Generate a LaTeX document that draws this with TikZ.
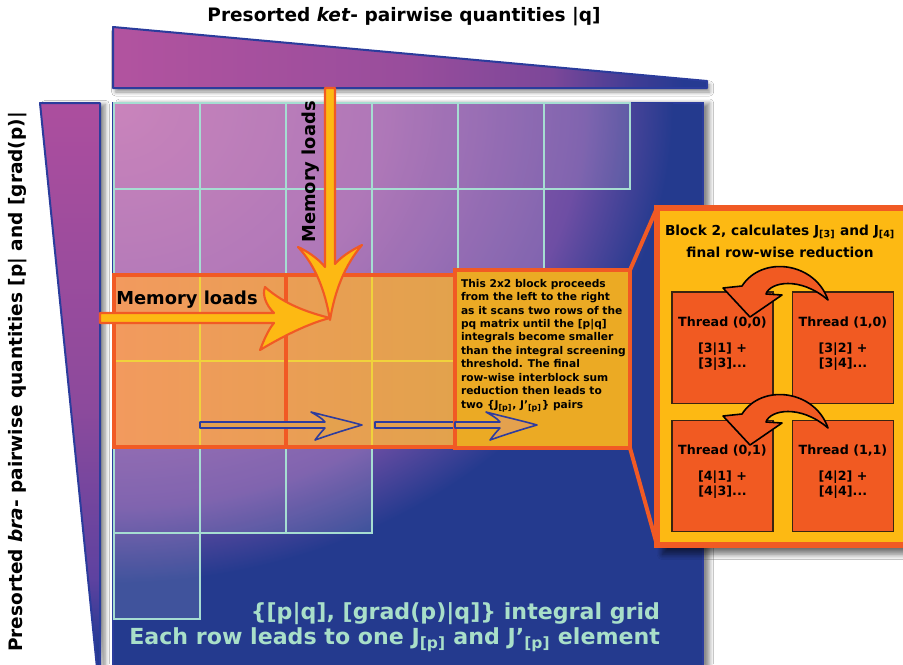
\documentclass[tikz,border=0pt]{standalone}
\usepackage{fontspec}
\setmainfont{DejaVu Sans}
\usetikzlibrary{shadows.blur}
\definecolor{bgblue}{HTML}{243A8E}
\definecolor{edgeblue}{HTML}{2B3C9C}
\definecolor{cellline}{HTML}{A6DDD2}
\definecolor{glowA}{HTML}{C272B1}
\definecolor{glowB}{HTML}{A464AE}
\definecolor{glowC}{HTML}{6E4EA4}
\definecolor{tA}{HTML}{B2539F}
\definecolor{tB}{HTML}{984D9C}
\definecolor{tC}{HTML}{7C4799}
\definecolor{tD}{HTML}{3E3C94}
\definecolor{tE}{HTML}{263A92}
\definecolor{lA}{HTML}{AC4E9E}
\definecolor{lB}{HTML}{8C4A9C}
\definecolor{lC}{HTML}{5E42A0}
\definecolor{bandL}{HTML}{F29A5E}
\definecolor{bandR}{HTML}{E2A24C}
\definecolor{bandline}{HTML}{F0D23C}
\definecolor{orangeedge}{HTML}{F15A24}
\definecolor{calloutfill}{HTML}{EBAA24}
\definecolor{blockfill}{HTML}{FDB913}
\definecolor{threadfill}{HTML}{F15A22}
\definecolor{threadedge}{HTML}{3A2410}
\definecolor{memfill}{HTML}{FDB913}
\definecolor{arrowblue}{HTML}{2E3C9E}
\definecolor{gridtext}{HTML}{A9DFC9}
\pgfdeclareradialshading{glow}{\pgfpoint{0bp}{0bp}}{color(0bp)=(glowA); color(12bp)=(glowB); color(21bp)=(glowC); color(25bp)=(bgblue); color(50bp)=(bgblue)}
\pgfdeclarehorizontalshading{topgrad}{100bp}{color(0bp)=(tA); color(25bp)=(tA); color(50bp)=(tB); color(62bp)=(tC); color(69bp)=(tD); color(73bp)=(tE); color(100bp)=(tE)}
\pgfdeclareverticalshading{leftgrad}{100bp}{color(0bp)=(tE); color(27bp)=(tE); color(33bp)=(lC); color(48bp)=(lB); color(75bp)=(lA); color(100bp)=(lA)}
\newcommand\fsz[2]{\fontsize{#1}{#2}\selectfont\bfseries}
\begin{document}
\begin{tikzpicture}[x=0.75pt,y=-0.75pt,
  every node/.style={inner sep=0pt, outer sep=0pt},
  softshadow/.style={blur shadow={shadow xshift=#1, shadow yshift=-3pt, shadow opacity=45, shadow blur steps=8, shadow blur radius=3pt}},
  cellfill/.style={fill=white, fill opacity=0.13},
  cellbox/.style={draw=cellline, line width=1.1pt},
  thickor/.style={draw=orangeedge, line width=3pt},
  bandgrid/.style={draw=bandline, line width=1.1pt},
  bluearrow/.style={fill=bandR!90!bandL, draw=arrowblue, line width=1.2pt, line join=round},
  memarrow/.style={fill=memfill, draw=orangeedge, line width=1.6pt, line join=round},
  curvearrow/.style={fill=threadfill, draw=black, line width=1.2pt, line join=round},
  threadbox/.style={draw=threadedge, fill=threadfill, line width=1pt, minimum width=75.75pt, minimum height=83.5pt},
  threadtxt/.style={font=\fsz{9.5}{11.3}, align=center}]
\useasboundingbox[fill=white] (0,0) rectangle (903,664);

% top triangle (ket)
\shade[shading=topgrad, draw=edgeblue, line width=1.5pt, line join=round, softshadow=2pt]
  (113,27) -- (707,81) -- (707,88) -- (113,88) -- cycle;
% left triangle (bra)
\shade[shading=leftgrad, draw=edgeblue, line width=1.5pt, line join=round,
  blur shadow={shadow xshift=4pt, shadow yshift=-1pt, shadow opacity=45, shadow blur steps=8, shadow blur radius=3pt}]
  (40,103) -- (100,103) -- (100,668) -- (97,668) -- cycle;

% main integral grid area
\path[fill=bgblue, draw=edgeblue, line width=1pt,
  blur shadow={shadow xshift=5pt, shadow yshift=0pt, shadow opacity=45, shadow blur steps=8, shadow blur radius=3pt}]
  (113,103) rectangle (703,668);
\begin{scope}
  \clip (113,103) rectangle (703,668);
  \shade[shading=glow] (113,103) ellipse (420pt and 360pt);
\end{scope}

% grid cells
\foreach \c in {0,...,5} {\path[cellfill] ({114+86*\c},103) rectangle ++(86,86);}
\foreach \c in {0,...,4} {\path[cellfill] ({114+86*\c},189) rectangle ++(86,86);}
\foreach \c in {0,...,2} {\path[cellfill] ({114+86*\c},447) rectangle ++(86,86);}
\path[cellfill] (114,533) rectangle ++(86,86);
\foreach \c in {0,...,5} {\path[cellbox] ({114+86*\c},103) rectangle ++(86,86);}
\foreach \c in {0,...,4} {\path[cellbox] ({114+86*\c},189) rectangle ++(86,86);}
\foreach \c in {0,...,2} {\path[cellbox] ({114+86*\c},447) rectangle ++(86,86);}
\path[cellbox] (114,533) rectangle ++(86,86);

% highlighted 2x2 blocks
\shade[left color=bandL, right color=bandR] (114,275) rectangle (457,447);
\path[bandgrid] (200,275) -- (200,447);
\path[bandgrid] (372,275) -- (372,447);
\path[bandgrid] (114,361) -- (457,361);
\path[thickor] (114,275) rectangle (286,447);
\path[thickor] (286,275) rectangle (457,447);

% scanning arrows
\path[bluearrow] (200,422) -- (325,422) .. controls (322,418) and (316,415) .. (311,412)
  .. controls (330,417) and (348,421) .. (362,425) .. controls (348,429) and (332,434) .. (315,440)
  .. controls (318,436) and (322,431) .. (325,428) -- (200,428) -- cycle;
\begin{scope}[shift={(175,0)}]
\path[bluearrow] (200,422) -- (325,422) .. controls (322,418) and (316,415) .. (311,412)
  .. controls (330,417) and (348,421) .. (362,425) .. controls (348,429) and (332,434) .. (315,440)
  .. controls (318,436) and (322,431) .. (325,428) -- (200,428) -- cycle;
\end{scope}

% callout box
\node[draw=orangeedge, line width=3pt, fill=calloutfill, minimum width=131.25pt, minimum height=133.5pt] (callout) at (542.5,359) {};
\path[bluearrow] (455,422) -- (500,422) .. controls (497,418) and (491,415) .. (486,412)
  .. controls (505,417) and (523,421) .. (537,425) .. controls (523,429) and (507,434) .. (490,440)
  .. controls (493,436) and (497,431) .. (500,428) -- (455,428) -- cycle;
\node[anchor=north west, align=left, font=\fsz{8}{10.1}] (callouttxt) at (461,279)
  {This 2x2 block proceeds\\from the left to the right\\as it scans two rows of the\\pq matrix until the [p|q]\\integrals become smaller\\than the integral screening\\threshold. The final\\row-wise interblock sum\\reduction then leads to\\two \{J\textsubscript{[p]}, J’\textsubscript{[p]}\} pairs};

% block 2 zoom
\node[draw=orangeedge, line width=3.8pt, fill=blockfill, minimum width=193.5pt, minimum height=252.75pt,
  blur shadow={shadow xshift=4pt, shadow yshift=-7pt, shadow opacity=55, shadow blur steps=8, shadow blur radius=4pt}] (block) at (786,376.5) {};
\draw[orangeedge, line width=3pt] (callout.north east) -- (block.north west);
\draw[orangeedge, line width=3pt] (callout.south east) -- (block.south west);
\node[align=center, font=\fsz{10.3}{16.5}] (blockhdr) at (780,241)
  {Block 2, calculates J\textsubscript{[3]} and J\textsubscript{[4]}\\final row-wise reduction};

\node[threadbox] (t00) at (722.5,347.5) {};
\node[threadbox] (t10) at (843,347.5) {};
\node[threadbox] (t01) at (722.5,476) {};
\node[threadbox] (t11) at (843,476) {};
\node[threadtxt] (t00a) at (722.5,323) {Thread (0,0)};
\node[threadtxt] (t10a) at (843,323) {Thread (1,0)};
\node[threadtxt] (t01a) at (722.5,451) {Thread (0,1)};
\node[threadtxt] (t11a) at (843,451) {Thread (1,1)};
\node[threadtxt] (t00b) at (722.5,357) {[3|1] +\\{}[3|3]...};
\node[threadtxt] (t10b) at (843,357) {[3|2] +\\{}[3|4]...};
\node[threadtxt] (t01b) at (722.5,485) {[4|1] +\\{}[4|3]...};
\node[threadtxt] (t11b) at (843,485) {[4|2] +\\{}[4|4]...};

% reduction arrows
\path[curvearrow] (828,300) .. controls (815,262) and (762,255) .. (742,286) -- (723,288) -- (750,317)
  -- (782,295) -- (766,294) .. controls (770,282) and (800,276) .. (828,300) -- cycle;
\begin{scope}[shift={(0,128)}]
\path[curvearrow] (828,300) .. controls (815,262) and (762,255) .. (742,286) -- (723,288) -- (750,317)
  -- (782,295) -- (766,294) .. controls (770,282) and (800,276) .. (828,300) -- cycle;
\end{scope}

% memory loads arrows
\path[memarrow] (325,88) -- (325,267) .. controls (318,258) and (305,250) .. (298,247)
  .. controls (315,265) and (325,290) .. (330,320) .. controls (335,290) and (345,265) .. (362,245)
  .. controls (352,250) and (342,256) .. (335,264) -- (335,88) -- cycle;
\path[memarrow] (100,313) -- (274,313) .. controls (266,305) and (262,295) .. (265,287)
  .. controls (285,305) and (310,313) .. (330,318) .. controls (310,323) and (285,335) .. (260,350)
  .. controls (264,340) and (268,330) .. (274,323) -- (100,323) -- cycle;
\node[font=\fsz{13.4}{15}] (memh) at (187,300) {Memory loads};
\node[font=\fsz{13.4}{15}, rotate=90] (memv) at (311,172) {Memory loads};

% axis titles
\node[font=\fsz{13.9}{16}] (kettitle) at (404,17) {Presorted \textit{ket}- pairwise quantities |q]};
\node[font=\fsz{13.9}{16}, rotate=90] (bratitle) at (18,382) {Presorted \textit{bra}- pairwise quantities [p| and [grad(p)|};

% grid caption
\node[anchor=east, font=\fsz{16.6}{19}, text=gridtext] (cap1) at (660,614) {\{[p|q], [grad(p)|q]\} integral grid};
\node[anchor=east, font=\fsz{16.6}{19}, text=gridtext] (cap2) at (660,640) {Each row leads to one J\textsubscript{[p]} and J’\textsubscript{[p]} element};
\end{tikzpicture}
\end{document}
